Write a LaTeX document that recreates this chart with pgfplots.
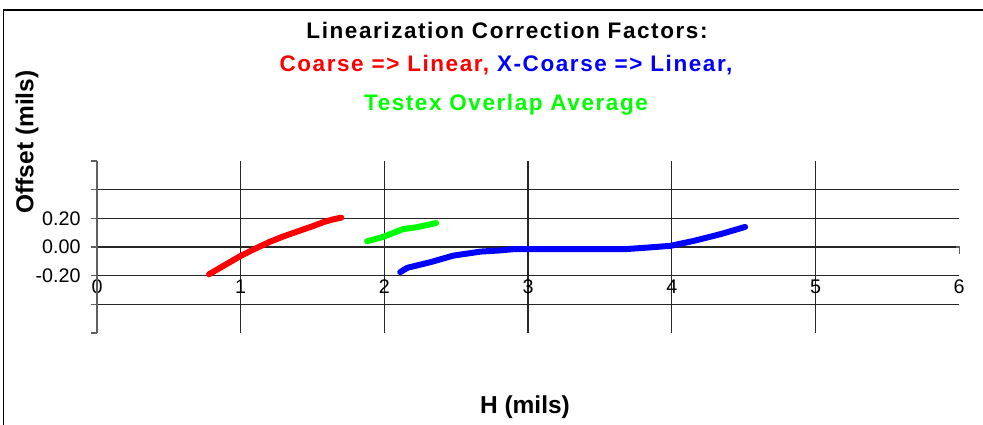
\documentclass[border=0pt]{standalone}
\usepackage{fontspec}
\setmainfont{Liberation Sans}
\newfontfamily\titlefont{Liberation Sans Bold}[LetterSpace=7]
\usepackage{pgfplots}
\pgfplotsset{compat=1.18}
\definecolor{axgray}{RGB}{96,96,96}
\definecolor{xred}{RGB}{255,0,0}
\definecolor{xblue}{RGB}{0,0,255}
\definecolor{xgreen}{RGB}{0,255,0}
\begin{document}
\begin{tikzpicture}
\useasboundingbox (-97pt,-177pt) rectangle (886pt,247pt);
\draw[line width=1.3pt, black] (-93.5pt,-180pt) -- (-93.5pt,237pt) -- (890pt,237pt);
\begin{axis}[
  at={(0pt,0pt)}, anchor=origin,
  x=143.7pt, y=143.3pt,
  xmin=0, xmax=6, ymin=-0.6, ymax=0.6,
  axis line style={draw=none},
  clip=false,
  xtick={1,2,3,4,5},
  extra x ticks={0,6},
  extra x tick style={grid=none},
  xmajorgrids, ymajorgrids,
  ytick={-0.4,-0.2,0,0.2,0.4},
  yticklabels={,-0.20,0.00,0.20,},
  extra y ticks={-0.6,0.6},
  extra y tick labels={},
  extra y tick style={grid=none},
  xtick style={draw=none},
  ytick pos=left,
  tick align=outside,
  major tick length=6pt,
  ytick style={draw=axgray, line width=1.2pt},
  major grid style={draw=black!85, line width=1.3pt},
  tick label style={font=\fontsize{19.7}{20}\selectfont},
  /pgf/number format/assume math mode=true,
  xticklabel style={anchor=center, yshift=52pt},
  yticklabel style={anchor=east, xshift=-7pt},
]
\draw[axgray, line width=1.2pt] (axis cs:0,-0.6) -- (axis cs:0,0.6);
\draw[axgray, line width=1.2pt] (axis cs:5.98,0) -- (axis cs:6,0) -- ++(0pt,-7pt);
\addplot[xred, line width=6pt, line cap=round, line join=round] coordinates {
 (0.78,-0.19) (0.9,-0.12) (1.0,-0.062) (1.1,-0.012) (1.2,0.035) (1.3,0.075)
 (1.4,0.11) (1.5,0.145) (1.58,0.175) (1.64,0.192) (1.70,0.205)};
\addplot[xgreen, line width=6pt, line cap=round, line join=round] coordinates {
 (1.88,0.04) (1.99,0.07) (2.13,0.125) (2.22,0.137) (2.36,0.167)};
\addplot[xblue, line width=6pt, line cap=round, line join=round] coordinates {
 (2.11,-0.175) (2.16,-0.145) (2.32,-0.106) (2.48,-0.06) (2.67,-0.032)
 (2.80,-0.024) (2.90,-0.015) (3.3,-0.014) (3.69,-0.014) (3.83,-0.004)
 (3.99,0.008) (4.15,0.042) (4.34,0.09) (4.51,0.14)};
\end{axis}
\node[anchor=base, font=\titlefont\fontsize{22.5}{24}\selectfont] at (410pt,208.7pt) {Linearization Correction Factors:};
\node[anchor=base, font=\titlefont\fontsize{22.5}{24}\selectfont] at (409pt,175.5pt) {\textcolor{xred}{Coarse => Linear,} \textcolor{xblue}{X-Coarse => Linear,}};
\node[anchor=base, font=\titlefont\fontsize{22.5}{24}\selectfont, text=xgreen] at (409pt,137pt) {Testex Overlap Average};
\node[anchor=base, font=\bfseries\fontsize{24.5}{26}\selectfont] at (428pt,-166pt) {H (mils)};
\node[anchor=base, rotate=90, font=\bfseries\fontsize{24.5}{26}\selectfont] at (-63.7pt,105pt) {Offset (mils)};
\end{tikzpicture}
\end{document}
